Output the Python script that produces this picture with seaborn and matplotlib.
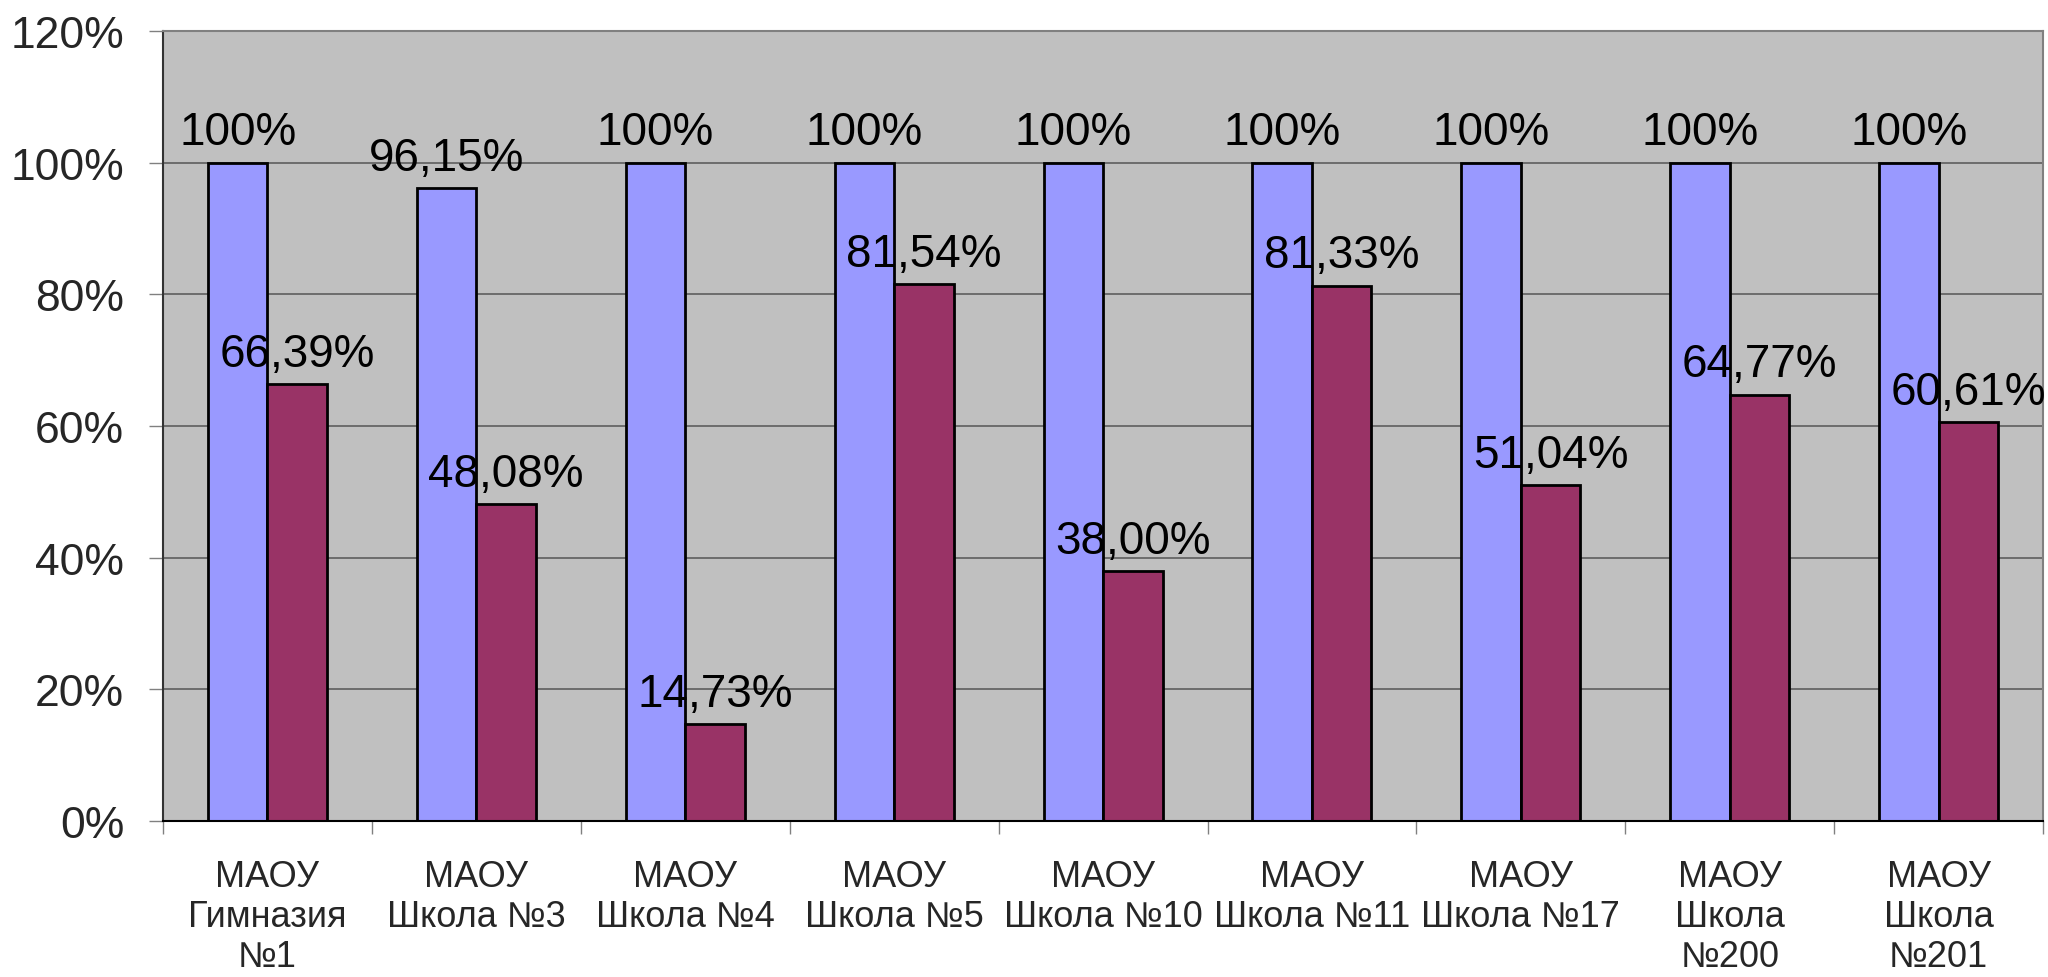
import numpy as np
import pandas as pd
import matplotlib
matplotlib.use("Agg")
import matplotlib.pyplot as plt
from matplotlib.ticker import FixedLocator, FuncFormatter
import seaborn as sns

# ── data ──
schools = ["МАОУ\nГимназия\n№1", "МАОУ\nШкола №3", "МАОУ\nШкола №4", "МАОУ\nШкола №5",
           "МАОУ\nШкола №10", "МАОУ\nШкола №11", "МАОУ\nШкола №17", "МАОУ\nШкола\n№200",
           "МАОУ\nШкола\n№201"]
series_names = ["Успеваемость", "Качество"]
success = [100, 96.15, 100, 100, 100, 100, 100, 100, 100]
quality = [66.39, 48.08, 14.73, 81.54, 38.00, 81.33, 51.04, 64.77, 60.61]
colors = ["#9999FF", "#993366"]
y_ticks = [0, 20, 40, 60, 80, 100, 120]

df = pd.DataFrame({
    "school": schools * 2,
    "series": [series_names[0]] * len(schools) + [series_names[1]] * len(schools),
    "value": success + quality,
})

sns.set_theme(style="white")
plt.rcParams["font.family"] = ["Liberation Sans", "DejaVu Sans"]

fig = plt.figure(figsize=(20.48, 9.78), dpi=100)
ax = fig.add_axes([0.0796, 0.1595, 0.9180, 0.8078])
ax.set_facecolor("#C0C0C0")

sns.barplot(data=df, x="school", y="value", hue="series", order=schools,
            hue_order=series_names, palette=colors, width=0.57, gap=0,
            edgecolor="black", linewidth=2, saturation=1, legend=False, ax=ax)


def fmt(v):
    return "100%" if v == 100 else f"{v:.2f}".replace(".", ",") + "%"


for cont, vals in zip(ax.containers, [success, quality]):
    ax.bar_label(cont, labels=[fmt(v) for v in vals], padding=6,
                 fontsize=33, color="black")

ax.set_ylim(0, 120)
ax.set_xlim(-0.5, len(schools) - 0.5)
ax.yaxis.set_major_locator(FixedLocator(y_ticks))
ax.yaxis.set_major_formatter(FuncFormatter(lambda v, p: f"{v:.0f}%"))
for y in y_ticks[1:-1]:
    ax.axhline(y, color="#555555", linewidth=1.1, zorder=0.5)

ax.xaxis.set_minor_locator(FixedLocator(np.arange(-0.5, len(schools), 1)))
ax.tick_params(axis="x", which="major", length=0, pad=27, labelsize=26)
ax.tick_params(axis="x", which="minor", length=9, width=1, color="#808080", bottom=True)
ax.tick_params(axis="y", which="major", length=10, width=1, color="#808080",
               left=True, pad=18, labelsize=32)
for lbl in ax.get_xticklabels():
    lbl.set_linespacing(1.2)

ax.set_xlabel("")
ax.set_ylabel("")
ax.spines["left"].set_color("#333333")
ax.spines["bottom"].set_color("#000000")
ax.spines["top"].set_color("#808080")
ax.spines["right"].set_color("#808080")
for s in ax.spines.values():
    s.set_linewidth(1.5)

fig.savefig("out.png", dpi=100)
